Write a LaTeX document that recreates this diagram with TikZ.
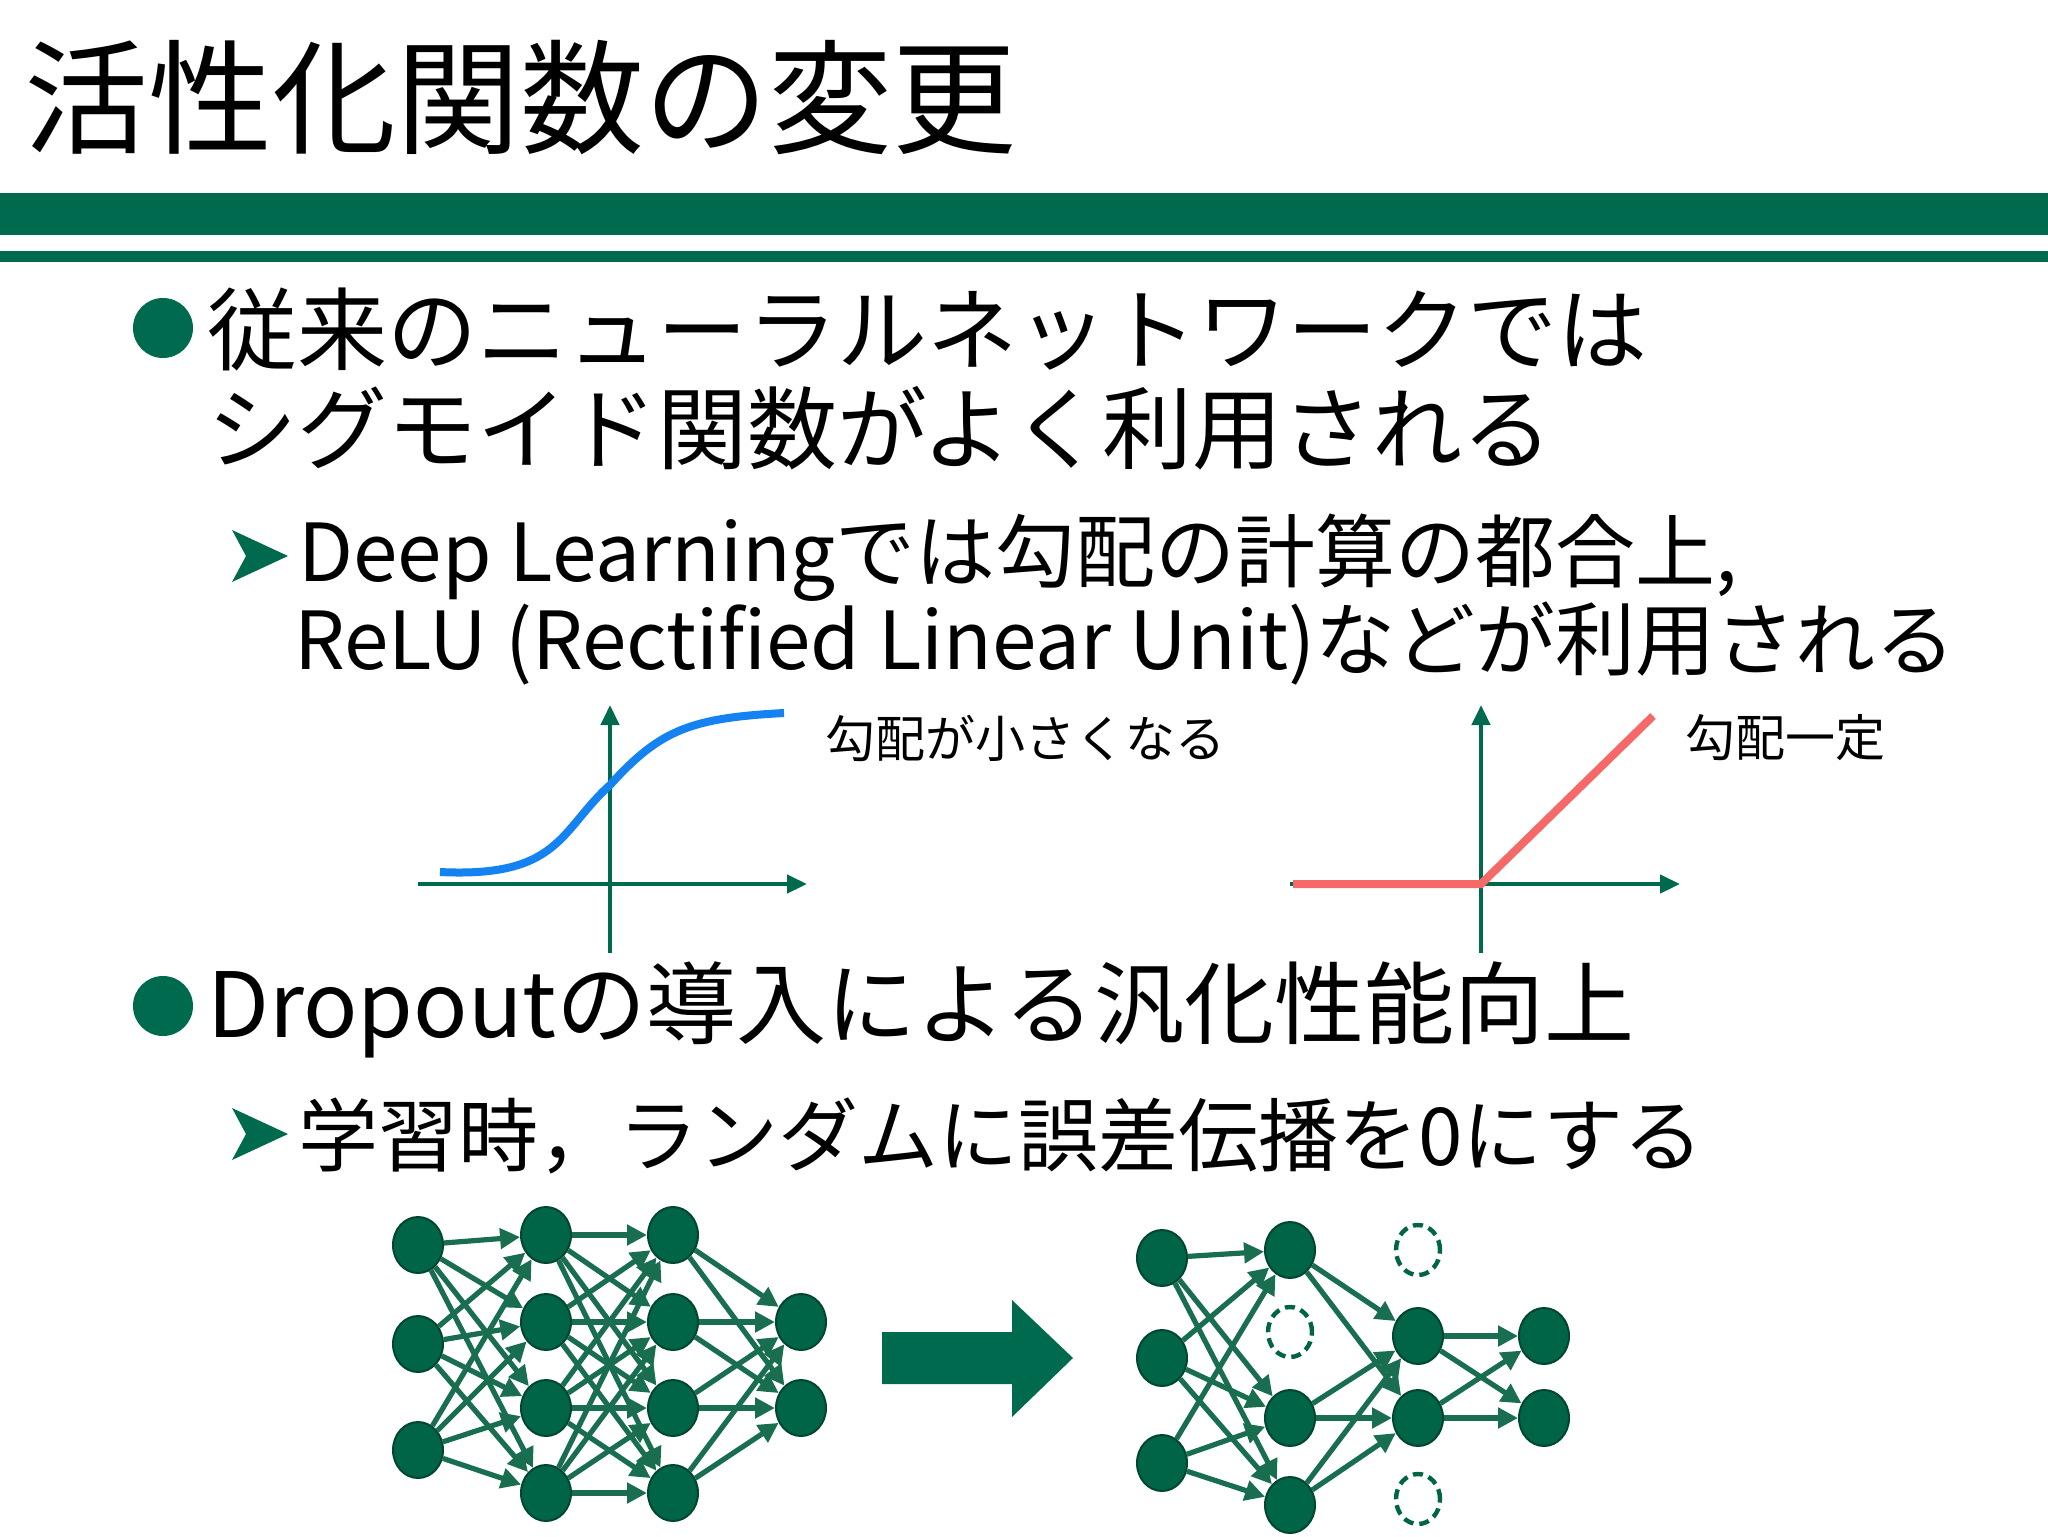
\documentclass[tikz,border=0pt]{standalone}
\usepackage{fontspec}
\setmainfont{Noto Sans CJK JP}
\usetikzlibrary{shapes.geometric,arrows.meta}
\definecolor{dg}{RGB}{0,106,78}
\definecolor{ng}{RGB}{0,100,70}
\definecolor{eg}{RGB}{25,110,80}
\definecolor{sig}{RGB}{20,130,240}
\definecolor{relu}{RGB}{245,105,105}
\tikzset{
  neuron/.style={ellipse,fill=ng,draw=ng!70!black,line width=1pt,minimum width=25pt,minimum height=28pt,inner sep=0pt},
  dropn/.style={ellipse,draw=ng,dashed,dash pattern=on 5pt off 3pt,line width=2.2pt,minimum width=22pt,minimum height=25pt,inner sep=0pt},
  edge/.style={draw=eg,line width=2.6pt,-{Triangle[length=10pt,width=10pt]}},
  axis/.style={draw=dg,line width=2.2pt},
  txt/.style={anchor=west,inner sep=0pt,text=black},
}
\begin{document}
\begin{tikzpicture}[x=0.5pt,y=-0.5pt]
\useasboundingbox (0,0) rectangle (2048,1536);
\fill[white] (0,0) rectangle (2048,1536);
% title
\node[txt,font=\fontsize{62pt}{70pt}\selectfont] (title) at (24,98) {活性化関数の変更};
\fill[dg] (0,193) rectangle (2048,235);
\fill[dg] (0,251) rectangle (2048,262);
% bullet 1
\fill[dg] (163,328) circle (30);
\node[txt,font=\fontsize{45pt}{50pt}\selectfont] (b1a) at (207,329) {従来のニューラルネットワークでは};
\node[txt,font=\fontsize{45pt}{50pt}\selectfont] (b1b) at (207,428) {シグモイド関数がよく利用される};
\fill[dg] (232,530) -- (288,556) -- (232,582) -- (246,556) -- cycle;
\node[txt,font=\fontsize{40pt}{44pt}\selectfont] (s1a) at (298,558) {Deep Learningでは勾配の計算の都合上,};
\node[txt,font=\fontsize{40pt}{44pt}\selectfont] (s1b) at (294,643) {ReLU (Rectified Linear Unit)などが利用される};
% sigmoid graph
\coordinate (sx0) at (418,884); \coordinate (sx1) at (807,884);
\coordinate (sy0) at (610,953); \coordinate (sy1) at (610,705);
\draw[axis,-{Triangle[length=10pt,width=9pt]}] (sx0) -- (sx1);
\draw[axis,-{Triangle[length=10pt,width=9pt]}] (sy0) -- (sy1);
\draw[sig,line width=4pt] (440,872) .. controls (560,878) and (560,830) .. (610,785) .. controls (660,730) and (690,718) .. (784,713);
\node[txt,font=\fontsize{25pt}{28pt}\selectfont] (l1) at (825,738) {勾配が小さくなる};
% relu graph
\coordinate (rx0) at (1290,884); \coordinate (rx1) at (1680,884);
\coordinate (ry0) at (1481,953); \coordinate (ry1) at (1481,705);
\draw[axis,-{Triangle[length=10pt,width=9pt]}] (rx0) -- (rx1);
\draw[axis,-{Triangle[length=10pt,width=9pt]}] (ry0) -- (ry1);
\draw[relu,line width=4pt] (1293,884) -- (1481,884) -- (1653,716);
\node[txt,font=\fontsize{25pt}{28pt}\selectfont] (l2) at (1685,738) {勾配一定};
% bullet 2
\fill[dg] (163,1006) circle (30);
\node[txt,font=\fontsize{45pt}{50pt}\selectfont] (b2) at (207,1010) {Dropoutの導入による汎化性能向上};
\fill[dg] (232,1108) -- (288,1134) -- (232,1160) -- (246,1134) -- cycle;
\node[txt,font=\fontsize{40pt}{44pt}\selectfont] (s2) at (298,1136) {学習時，ランダムに誤差伝播を0にする};
% left network
\foreach \i/\y in {1/1245,2/1344,3/1450} \node[neuron] (a\i) at (418,\y) {};
\foreach \i/\y in {1/1235,2/1322,3/1408,4/1493} {\node[neuron] (b\i) at (546,\y) {}; \node[neuron] (c\i) at (673,\y) {};}
\foreach \i/\y in {1/1322,2/1408} \node[neuron] (d\i) at (801,\y) {};
\foreach \i in {1,2,3} \foreach \j in {1,2,3,4} \draw[edge] (a\i) -- (b\j);
\foreach \i in {1,2,3,4} \foreach \j in {1,2,3,4} \draw[edge] (b\i) -- (c\j);
\foreach \i in {1,2,3,4} \foreach \j in {1,2} \draw[edge] (c\i) -- (d\j);
% big arrow
\fill[dg] (882,1332) -- (1012,1332) -- (1012,1300) -- (1073,1358) -- (1012,1417) -- (1012,1384) -- (882,1384) -- cycle;
% right network
\foreach \i/\y in {1/1258,2/1358,3/1463} \node[neuron] (p\i) at (1162,\y) {};
\node[neuron] (q1) at (1290,1250) {};
\node[dropn] (q2) at (1290,1332) {};
\node[neuron] (q3) at (1290,1418) {};
\node[neuron] (q4) at (1290,1505) {};
\node[dropn] (r1) at (1418,1250) {};
\node[neuron] (r2) at (1418,1336) {};
\node[neuron] (r3) at (1418,1418) {};
\node[dropn] (r4) at (1418,1499) {};
\node[neuron] (t1) at (1544,1336) {};
\node[neuron] (t2) at (1544,1418) {};
\foreach \i in {1,2,3} \foreach \j in {1,3,4} \draw[edge] (p\i) -- (q\j);
\foreach \i in {1,3,4} \foreach \j in {2,3} \draw[edge] (q\i) -- (r\j);
\foreach \i in {2,3} \foreach \j in {1,2} \draw[edge] (r\i) -- (t\j);
\end{tikzpicture}
\end{document}
